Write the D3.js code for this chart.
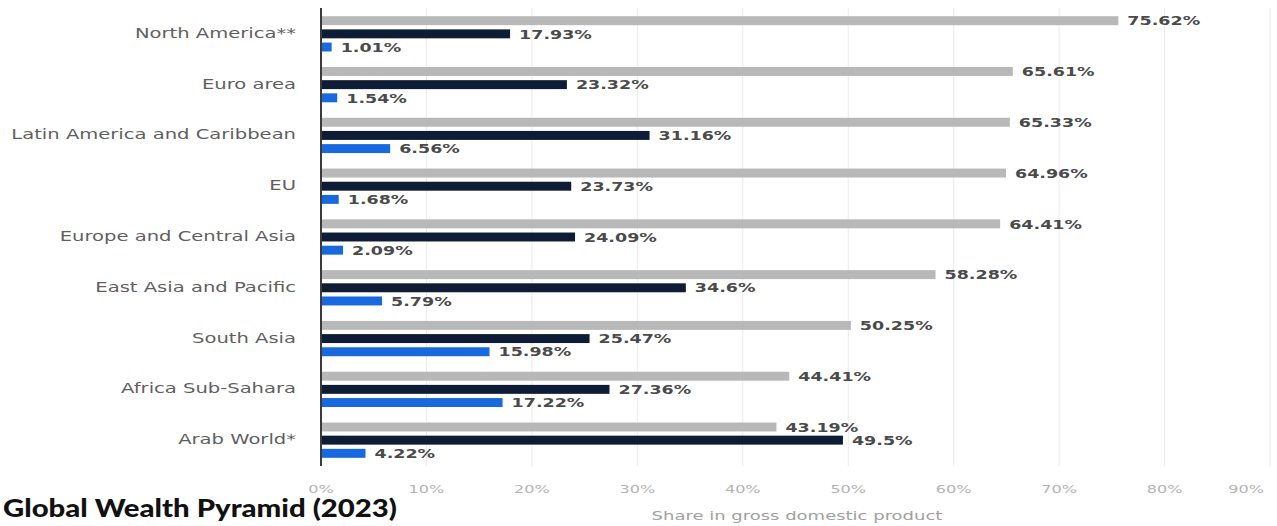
<!DOCTYPE html>
<html>
<head>
<meta charset="utf-8">
<script src="https://cdn.jsdelivr.net/npm/d3@7"></script>
<style>
  html, body { margin: 0; padding: 0; background: #fff; }
  svg { display: block; }
</style>
</head>
<body>
<svg id="chart" width="1277" height="526"></svg>
<script>
// Regions, top to bottom
const categories = [
  "North America**", "Euro area", "Latin America and Caribbean", "EU",
  "Europe and Central Asia", "East Asia and Pacific", "South Asia",
  "Africa Sub-Sahara", "Arab World*"
];
// Three series per region, share in GDP (%)
const seriesKeys = ["gray", "dark", "blue"];
const grayValues = [75.62, 65.61, 65.33, 64.96, 64.41, 58.28, 50.25, 44.41, 43.19];
const darkValues = [17.93, 23.32, 31.16, 23.73, 24.09, 34.6, 25.47, 27.36, 49.5];
const blueValues = [1.01, 1.54, 6.56, 1.68, 2.09, 5.79, 15.98, 17.22, 4.22];
const tickValues = [0, 10, 20, 30, 40, 50, 60, 70, 80, 90];
const tickLabels = ["0%", "10%", "20%", "30%", "40%", "50%", "60%", "70%", "80%", "90%"];
const axisTitle = "Share in gross domestic product";
const chartTitle = "Global Wealth Pyramid (2023)";

const colors = { gray: "#b8b8b8", dark: "#0f1c36", blue: "#1769dd" };
const valuesByKey = { gray: grayValues, dark: darkValues, blue: blueValues };

const rows = categories.map((c, i) => ({
  category: c,
  bars: seriesKeys.map(k => ({ key: k, value: valuesByKey[k][i] }))
}));

const svg = d3.select("#chart");
const SX = 1.46;            // horizontal text stretch
const FONT = "'DejaVu Sans', Verdana, sans-serif";

const x = d3.scaleLinear().domain([0, 90]).range([321, 1270]);
const y = d3.scaleBand().domain(categories).range([16.2, 457.8]).paddingInner(0.305).paddingOuter(0);
const yInner = d3.scaleBand().domain(seriesKeys).range([0, y.bandwidth()]).paddingInner(0.32).paddingOuter(0);

// vertical gridlines
svg.append("g").selectAll("line").data(tickValues.slice(1)).join("line")
  .attr("x1", d => x(d)).attr("x2", d => x(d))
  .attr("y1", 8).attr("y2", 466)
  .attr("stroke", "#ebebeb").attr("stroke-width", 1);

// bars
const groups = svg.append("g").selectAll("g").data(rows).join("g")
  .attr("transform", d => `translate(0,${y(d.category)})`);

groups.selectAll("rect").data(d => d.bars).join("rect")
  .attr("x", x(0))
  .attr("y", d => yInner(d.key))
  .attr("width", d => x(d.value) - x(0))
  .attr("height", yInner.bandwidth())
  .attr("fill", d => colors[d.key]);

// value labels
groups.selectAll("text").data(d => d.bars).join("text")
  .attr("transform", d => `translate(${x(d.value) + 9},${yInner(d.key) + yInner.bandwidth() / 2 + 1}) scale(1.4,1)`)
  .attr("dominant-baseline", "middle")
  .attr("font-family", FONT)
  .attr("font-weight", "bold")
  .attr("font-size", 12.5)
  .attr("fill", "#4a4a4a")
  .text(d => d.value + "%");

// category labels
svg.append("g").selectAll("text").data(categories).join("text")
  .attr("transform", d => `translate(296,${y(d) + yInner("dark") + yInner.bandwidth() / 2}) scale(${SX},1)`)
  .attr("text-anchor", "end")
  .attr("dominant-baseline", "middle")
  .attr("font-family", FONT)
  .attr("font-size", 13.4)
  .attr("fill", "#5f5f5f")
  .text(d => d);

// y axis line
svg.append("line")
  .attr("x1", x(0)).attr("x2", x(0))
  .attr("y1", 8).attr("y2", 466)
  .attr("stroke", "#3a3a3a").attr("stroke-width", 2);

// x tick labels, the last one kept inside the frame
const tickG = svg.append("g");
tickValues.forEach((v, i) => {
  const t = tickG.append("text")
    .attr("font-family", FONT)
    .attr("font-size", 11)
    .attr("fill", "#b3b3b3")
    .attr("text-anchor", "middle")
    .text(tickLabels[i]);
  const w = t.node().getComputedTextLength() * SX;
  let cx = x(v);
  if (cx + w / 2 > 1264) cx = 1264 - w / 2;
  t.attr("transform", `translate(${cx},493) scale(${SX},1)`);
});

// axis title
svg.append("text")
  .attr("transform", `translate(797,520) scale(1.5,1)`)
  .attr("text-anchor", "middle")
  .attr("font-family", FONT)
  .attr("font-size", 12)
  .attr("fill", "#a0a0a0")
  .text(axisTitle);

// chart title
svg.append("text")
  .attr("x", 3).attr("y", 517)
  .attr("font-family", "Lato, 'Open Sans', sans-serif")
  .attr("font-weight", 900)
  .attr("font-size", 24)
  .attr("fill", "#111")
  .attr("textLength", 394)
  .attr("lengthAdjust", "spacingAndGlyphs")
  .text(chartTitle);
</script>
</body>
</html>
